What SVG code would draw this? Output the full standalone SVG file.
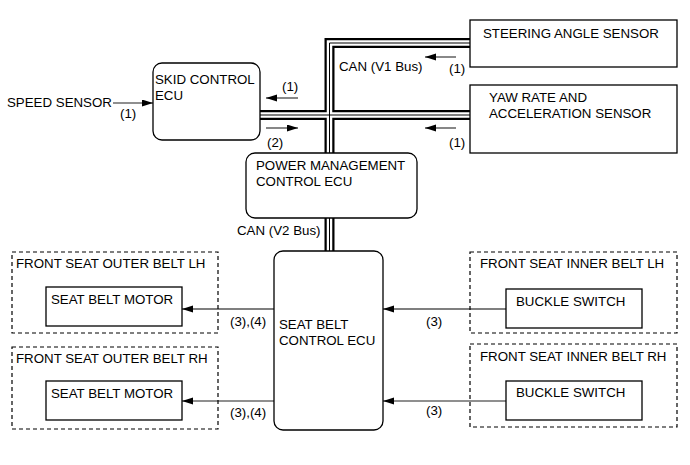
<svg xmlns="http://www.w3.org/2000/svg" width="690" height="465" viewBox="0 0 690 465">
<defs>
<marker id="ah" markerUnits="userSpaceOnUse" markerWidth="12" markerHeight="8" refX="11" refY="3.5" orient="auto">
<path d="M0,0 L11,3.5 L0,7 z" fill="#000"/>
</marker>
<style>
text{font-family:"Liberation Sans",Arial,sans-serif;font-size:13.3px;fill:#000}
.box{fill:#fff;stroke:#000;stroke-width:1.3}
.dash{fill:none;stroke:#000;stroke-width:1.2;stroke-dasharray:4,3}
.arr{fill:none;stroke:#000;stroke-width:1.2;marker-end:url(#ah)}
.garr{fill:none;stroke:#6a6a6a;stroke-width:1.6;marker-end:url(#ah)}
.bus1{fill:none;stroke:#000;stroke-width:10}
.bus2{fill:none;stroke:#fff;stroke-width:5.5}
.bus3{fill:none;stroke:#000;stroke-width:1}
</style>
</defs>
<rect width="690" height="465" fill="#fff"/>
<g id="connectors">
<path class="bus1" d="M260,115 H470 M470,43 H329.5 V251"/>
<path class="bus2" d="M260,115 H470 M470,43 H329.5 V251"/>
<path class="bus3" d="M260,115 H470 M470,43 H329.5 V251"/>
<line class="garr" x1="113" y1="103" x2="153" y2="103"/>
<line class="garr" x1="298" y1="98" x2="266" y2="98"/>
<line class="garr" x1="266" y1="128" x2="298" y2="128"/>
<line class="garr" x1="456" y1="57" x2="425" y2="57"/>
<line class="garr" x1="456" y1="128" x2="425" y2="128"/>
<line class="arr" x1="274" y1="309" x2="182" y2="309"/>
<line class="garr" x1="274" y1="401" x2="182" y2="401"/>
<line class="arr" x1="506" y1="309" x2="383" y2="309"/>
<line class="garr" x1="506" y1="401" x2="383" y2="401"/>
<text x="120" y="118">(1)</text>
<text x="282" y="91">(1)</text>
<text x="267" y="147">(2)</text>
<text x="449" y="73">(1)</text>
<text x="339" y="71">CAN (V1 Bus)</text>
<text x="449" y="147">(1)</text>
<text x="237" y="235">CAN (V2 Bus)</text>
<text x="230" y="326">(3),(4)</text>
<text x="230" y="417">(3),(4)</text>
<text x="426" y="326">(3)</text>
<text x="426" y="415">(3)</text>
</g>
<g id="speed-sensor"><text x="7" y="107">SPEED SENSOR</text></g>
<g id="skid-ecu">
<rect class="box" x="153" y="63" width="107" height="77" rx="9"/>
<text x="155" y="84">SKID CONTROL</text>
<text x="155" y="100">ECU</text>
</g>
<g id="steering-sensor">
<rect class="box" x="470" y="20" width="207" height="47"/>
<text x="483" y="38">STEERING ANGLE SENSOR</text>
</g>
<g id="yaw-sensor">
<rect class="box" x="470" y="85" width="207" height="68"/>
<text x="489" y="102">YAW RATE AND</text>
<text x="489" y="118">ACCELERATION SENSOR</text>
</g>
<g id="pm-ecu">
<rect class="box" x="246" y="153" width="171" height="65" rx="9"/>
<text x="256" y="170">POWER MANAGEMENT</text>
<text x="256" y="186">CONTROL ECU</text>
</g>
<g id="seatbelt-ecu">
<rect class="box" x="274" y="251" width="109" height="179" rx="9"/>
<text x="279" y="329">SEAT BELT</text>
<text x="279" y="345">CONTROL ECU</text>
</g>
<g id="outer-lh">
<rect class="dash" x="12" y="252" width="206" height="81"/>
<text x="16" y="268">FRONT SEAT OUTER BELT LH</text>
<rect class="box" x="46" y="287" width="136" height="39"/>
<text x="51" y="304">SEAT BELT MOTOR</text>
</g>
<g id="outer-rh">
<rect class="dash" x="12" y="347" width="206" height="82"/>
<text x="16" y="363">FRONT SEAT OUTER BELT RH</text>
<rect class="box" x="46" y="381" width="136" height="39"/>
<text x="51" y="398">SEAT BELT MOTOR</text>
</g>
<g id="inner-lh">
<rect class="dash" x="470" y="252" width="207" height="81"/>
<text x="480" y="268">FRONT SEAT INNER BELT LH</text>
<rect class="box" x="506" y="289" width="136" height="39"/>
<text x="516" y="306">BUCKLE SWITCH</text>
</g>
<g id="inner-rh">
<rect class="dash" x="470" y="344" width="207" height="83"/>
<text x="480" y="361">FRONT SEAT INNER BELT RH</text>
<rect class="box" x="506" y="381" width="136" height="39"/>
<text x="516" y="397">BUCKLE SWITCH</text>
</g>
</svg>
